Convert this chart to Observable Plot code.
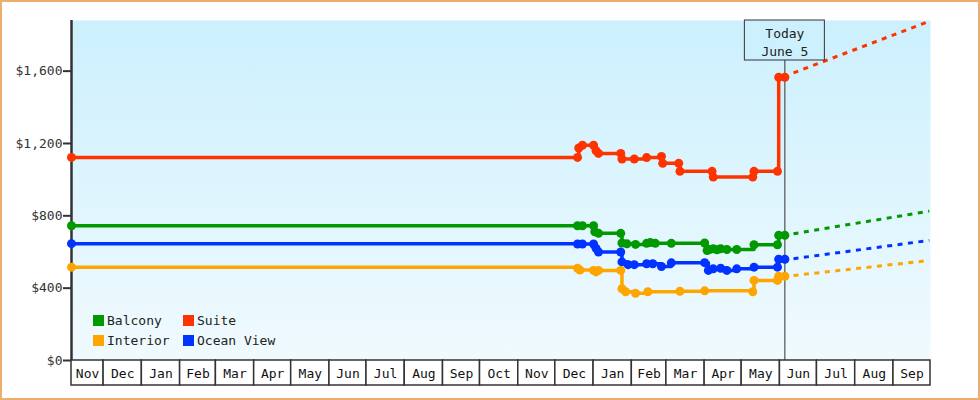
<!DOCTYPE html>
<html><head><meta charset="utf-8">
<script src="https://cdn.jsdelivr.net/npm/d3@7"></script>
<script src="https://cdn.jsdelivr.net/npm/@observablehq/plot@0.6"></script>
<style>
body{margin:0;background:#fff;}
#wrap{position:relative;width:980px;height:400px;box-sizing:border-box;border:2px solid #eaae72;overflow:hidden;background:#fff;}
#chart svg{display:block;}
.lg{position:absolute;display:flex;align-items:center;font:13px "DejaVu Sans Mono",monospace;color:#222;white-space:nowrap;}
.lg span.sw{display:inline-block;width:11px;height:11px;margin-right:3px;}
</style></head><body>
<div id="wrap"><div id="chart"></div><div id="legend"></div></div>
<script>
// ---- data ----
const seriesNames = ["Balcony", "Suite", "Interior", "Ocean View"];
const seriesColors = ["#009900", "#ff3300", "#ffa500", "#0033ff"];

const suiteDates = ["2023-11-05","2024-12-19","2024-12-20","2024-12-23","2025-01-01","2025-01-03","2025-01-05","2025-01-23","2025-01-24","2025-02-03","2025-02-13","2025-02-25","2025-02-26","2025-03-11","2025-03-12","2025-04-07","2025-04-08","2025-05-10","2025-05-11","2025-05-30","2025-05-31","2025-06-05"];
const suiteValues = [1123,1123,1175,1190,1190,1160,1145,1145,1114,1114,1122,1128,1090,1090,1046,1046,1014,1014,1046,1046,1566,1566];

const balconyDates = ["2023-11-05","2024-12-19","2024-12-23","2025-01-01","2025-01-02","2025-01-05","2025-01-23","2025-01-24","2025-01-28","2025-02-04","2025-02-13","2025-02-16","2025-02-20","2025-03-05","2025-04-01","2025-04-03","2025-04-05","2025-04-08","2025-04-11","2025-04-14","2025-04-19","2025-04-27","2025-05-11","2025-05-30","2025-05-31","2025-06-05"];
const balconyValues = [745,745,745,745,712,703,703,650,645,642,648,652,648,648,650,608,614,618,612,618,614,614,640,640,692,692];

const oceanDates = ["2023-11-05","2024-12-19","2024-12-23","2025-01-01","2025-01-03","2025-01-05","2025-01-23","2025-01-24","2025-01-29","2025-02-03","2025-02-13","2025-02-18","2025-02-25","2025-03-05","2025-04-01","2025-04-04","2025-04-08","2025-04-14","2025-04-19","2025-04-27","2025-05-11","2025-05-30","2025-05-31","2025-06-05"];
const oceanValues = [646,644,644,644,620,600,600,545,530,530,535,535,520,540,541,498,507,510,498,507,516,516,560,560];

const interiorDates = ["2023-11-05","2024-12-19","2024-12-21","2025-01-01","2025-01-03","2025-01-05","2025-01-23","2025-01-24","2025-01-27","2025-02-04","2025-02-14","2025-03-12","2025-04-01","2025-05-10","2025-05-11","2025-05-30","2025-05-31","2025-06-05"];
const interiorValues = [516,510,500,498,490,498,498,397,380,372,380,383,385,380,443,443,466,466];

const forecastDates = ["2025-06-12", "2025-09-30"];
const balconyForecast = [701, 826];
const suiteForecast = [1590, 1876];
const interiorForecast = [470, 553];
const oceanForecast = [563, 664];

const monthLabels = ["Nov","Dec","Jan","Feb","Mar","Apr","May","Jun","Jul","Aug","Sep","Oct","Nov","Dec","Jan","Feb","Mar","Apr","May","Jun","Jul","Aug","Sep"];
const yTicks = [0, 400, 800, 1200, 1600];
const xStart = "2023-11-05", xEnd = "2025-10-01";
const yMax = 1880;
const today = "2025-06-05";
const todayText = "Today\nJune 5";

// ---- build tables ----
const toRows = (name, ds, vs) => ds.map((d, i) => ({series: name, date: new Date(d), price: vs[i]}));
const history = [
  ...toRows("Balcony", balconyDates, balconyValues),
  ...toRows("Ocean View", oceanDates, oceanValues),
  ...toRows("Interior", interiorDates, interiorValues),
  ...toRows("Suite", suiteDates, suiteValues)
];
const forecast = [
  ...toRows("Balcony", forecastDates, balconyForecast),
  ...toRows("Ocean View", forecastDates, oceanForecast),
  ...toRows("Interior", forecastDates, interiorForecast),
  ...toRows("Suite", forecastDates, suiteForecast)
];
const start = new Date(xStart), end = new Date(xEnd);
const bounds = [start, ...d3.utcMonth.range(d3.utcMonth.ceil(start), end), end];
const cells = monthLabels.map((label, i) => ({label, x1: bounds[i], x2: bounds[i + 1], mid: new Date((+bounds[i] + +bounds[i + 1]) / 2)}));
const todayDate = new Date(today);

const topColor = "#ccf0fd", bottomColor = "#f0fafe";

const chart = Plot.plot({
  width: 976, height: 396,
  marginLeft: 69, marginRight: 48, marginTop: 18, marginBottom: 38,
  style: {fontFamily: "'DejaVu Sans Mono', monospace", fontSize: "13px", background: "transparent", overflow: "visible"},
  x: {type: "utc", domain: [start, end], axis: null},
  y: {domain: [0, yMax], axis: null},
  color: {domain: seriesNames, range: seriesColors},
  marks: [
    () => {
      const g = d3.create("svg:defs");
      const lg = g.append("linearGradient").attr("id", "bgGrad").attr("x1", 0).attr("y1", 0).attr("x2", 0).attr("y2", 1);
      lg.append("stop").attr("offset", "0%").attr("stop-color", topColor);
      lg.append("stop").attr("offset", "100%").attr("stop-color", bottomColor);
      return g.node();
    },
    Plot.frame({fill: "url(#bgGrad)", stroke: null}),
    Plot.rect(cells, {x1: "x1", x2: "x2", y1: 0, y2: 0, insetBottom: -25, fill: "white", stroke: "#333", strokeWidth: 1.5}),
    Plot.text(cells, {x: "mid", y: 0, text: "label", dy: 13, fill: "#111", fontSize: 13}),
    Plot.ruleX([start], {stroke: "#333", strokeWidth: 2.5}),
    Plot.axisY(yTicks, {tickSize: 8, tickPadding: 1, strokeWidth: 2, stroke: "#333", fill: "#333", fontSize: 13, label: null, tickFormat: d => "$" + d3.format(",")(d)}),
    Plot.ruleX([todayDate], {stroke: "#333", strokeWidth: 1}),
    Plot.line(forecast, {x: "date", y: "price", z: "series", stroke: "series", strokeWidth: 3, strokeDasharray: "5,5.5", strokeLinecap: "butt"}),
    Plot.line(history, {x: "date", y: "price", z: "series", stroke: "series", strokeWidth: 3.5, curve: "step-after"}),
    Plot.dot(history, {x: "date", y: "price", fill: "series", r: 4.5}),
    Plot.rect([todayText], {x1: todayDate, x2: todayDate, y1: yMax, y2: yMax, insetLeft: -40, insetRight: -40, insetBottom: -40, fill: topColor, stroke: "#333", strokeWidth: 1}),
    Plot.text([todayText], {x: todayDate, y: yMax, text: d => d, dy: 21, lineHeight: 1.33, fill: "#222", fontSize: 13})
  ]
});
document.getElementById("chart").append(chart);

// legend overlay
const legendOrder = ["Balcony", "Suite", "Interior", "Ocean View"];
const lgPos = [[91, 313], [181, 313], [91, 333], [181, 333]];
const lgDiv = d3.select("#legend");
legendOrder.forEach((name, i) => {
  const item = lgDiv.append("div").attr("class", "lg").style("left", lgPos[i][0] + "px").style("top", lgPos[i][1] + "px").style("height", "11px");
  item.append("span").attr("class", "sw").style("background", seriesColors[seriesNames.indexOf(name)]);
  item.append("span").text(name);
});
</script>
</body></html>
